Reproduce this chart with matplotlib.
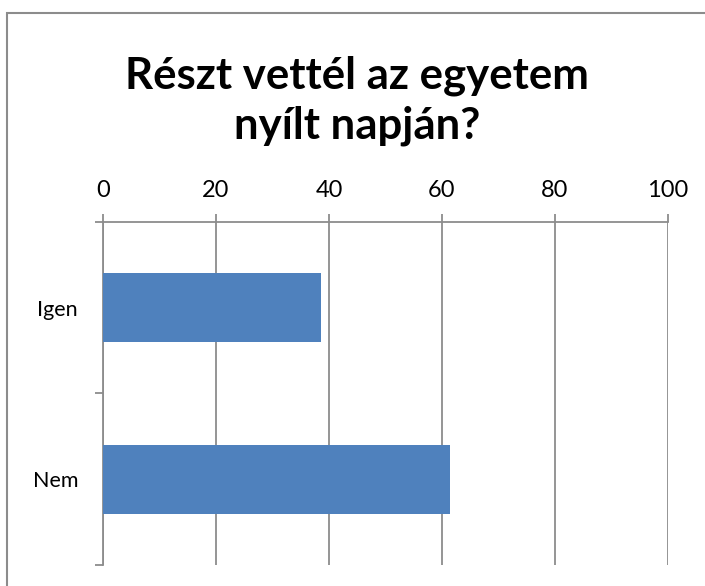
import matplotlib
matplotlib.use('Agg')
import matplotlib.pyplot as plt
from matplotlib.patches import Rectangle

categories = ['Igen', 'Nem']
values = [38.5, 61.5]
xticks = [0, 20, 40, 60, 80, 100]
title = 'Részt vettél az egyetem\nnyílt napján?'

plt.rcParams['font.family'] = ['Lato', 'DejaVu Sans']
gray = '#8c8c8c'
bar_color = '#4f81bd'

fig = plt.figure(figsize=(7.05, 5.86), dpi=100)
ax = fig.add_axes([0.1461, 0.0358, 0.8014, 0.5854])

pos = list(range(len(categories)))
ax.barh(pos, values, height=0.4, color=bar_color, zorder=3)
ax.set_ylim(len(categories) - 0.5, -0.5)
ax.set_xlim(0, 100)

ax.xaxis.tick_top()
ax.set_xticks(xticks)
ax.set_xticklabels([str(t) for t in xticks], fontsize=17)
ax.tick_params(axis='x', direction='out', length=6, width=1.3, color=gray, pad=9)
ax.grid(axis='x', color=gray, linewidth=1.3, zorder=0)

ax.set_yticks(pos)
ax.set_yticklabels(categories, fontsize=15.5)
ax.set_yticks([p - 0.5 for p in pos] + [pos[-1] + 0.5], minor=True)
ax.tick_params(axis='y', which='major', length=0, pad=18)
ax.tick_params(axis='y', which='minor', direction='out', length=6, width=1.3, color=gray)

for side in ['right', 'bottom']:
    ax.spines[side].set_visible(False)
for side in ['top', 'left']:
    ax.spines[side].set_color(gray)
    ax.spines[side].set_linewidth(1.3)

fig.text(0.506, 0.828, title, ha='center', va='center', fontsize=31.5,
         fontweight='bold', linespacing=1.3)

# outer chart frame, running off the right and bottom edges
fig.patches.append(Rectangle((7 / 705, -0.1), 1.2, 1.1 - 13 / 586,
                             transform=fig.transFigure, fill=False,
                             edgecolor=gray, linewidth=1.5))

fig.savefig('out.png', dpi=100)
